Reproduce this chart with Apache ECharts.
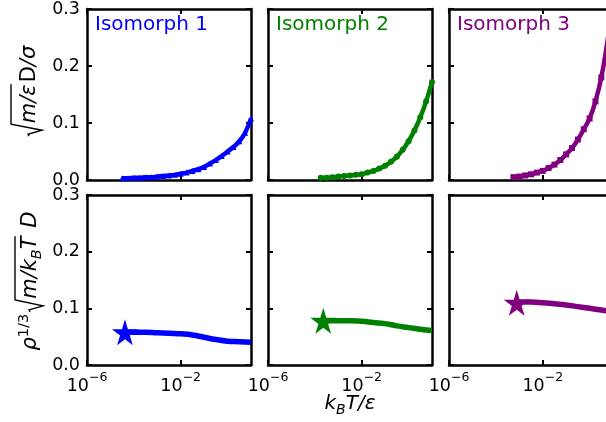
<!DOCTYPE html>
<html>
<head>
<meta charset="utf-8">
<script src="https://cdn.jsdelivr.net/npm/echarts@6/dist/echarts.min.js"></script>
<style>
  html, body { margin: 0; padding: 0; background: #fff; }
  #chart { width: 606px; height: 422px; }
</style>
</head>
<body>
<div id="chart"></div>
<script>
// x values are log10(k_B T / eps)
const names = ['Isomorph 1', 'Isomorph 2', 'Isomorph 3']
const colors = ['#0000ff', '#008000', '#800080']
const topSymbols = ['triangle', 'circle', 'rect']

// top row: sqrt(m/eps) D / sigma
const blueTopExp = [-4.5, -4.25, -4, -3.75, -3.5, -3.25, -3, -2.75, -2.5, -2.25, -2, -1.75, -1.5, -1.25, -1, -0.75, -0.5, -0.25, 0, 0.25, 0.5, 0.75, 1]
const blueTopVal = [0.003, 0.003, 0.004, 0.004, 0.005, 0.005, 0.006, 0.007, 0.008, 0.009, 0.011, 0.013, 0.016, 0.019, 0.023, 0.029, 0.035, 0.042, 0.050, 0.058, 0.068, 0.083, 0.108]
const greenTopExp = [-3.75, -3.5, -3.25, -3, -2.75, -2.5, -2.25, -2, -1.75, -1.5, -1.25, -1, -0.75, -0.5, -0.25, 0, 0.25, 0.5, 0.75, 1]
const greenTopVal = [0.004, 0.004, 0.005, 0.006, 0.007, 0.008, 0.009, 0.010, 0.013, 0.016, 0.020, 0.025, 0.032, 0.041, 0.053, 0.068, 0.087, 0.110, 0.138, 0.172]
const purpleTopExp = [-3.25, -3, -2.75, -2.5, -2.25, -2, -1.75, -1.5, -1.25, -1, -0.75, -0.5, -0.25, 0, 0.25, 0.5, 0.75, 1]
const purpleTopVal = [0.005, 0.006, 0.008, 0.010, 0.013, 0.016, 0.021, 0.027, 0.035, 0.045, 0.056, 0.071, 0.089, 0.108, 0.138, 0.180, 0.240, 0.310]

// bottom row: rho^(1/3) sqrt(m/k_B T) D
const blueBotExp = [-4.4, -4, -3.5, -3, -2.5, -2, -1.5, -1, -0.5, 0, 0.5, 1]
const blueBotVal = [0.058, 0.058, 0.058, 0.057, 0.056, 0.055, 0.053, 0.049, 0.045, 0.042, 0.041, 0.040]
const greenBotExp = [-3.65, -3, -2.5, -2, -1.5, -1, -0.5, 0, 0.5, 1]
const greenBotVal = [0.078, 0.078, 0.078, 0.077, 0.075, 0.073, 0.069, 0.066, 0.063, 0.061]
const purpleBotExp = [-3.12, -2.5, -2, -1.5, -1, -0.5, 0, 0.5, 1]
const purpleBotVal = [0.111, 0.111, 0.110, 0.108, 0.106, 0.103, 0.100, 0.097, 0.094]

// star = starting state point of each isomorph
const starExp = [-4.38, -3.64, -3.11]
const starVal = [0.058, 0.078, 0.110]

const xTicks = [1e-6, 1e-2]

const FONT = '"DejaVu Sans", sans-serif'
const STAR = 'path://M50,0 L61,35 L98,35 L68,57 L79,91 L50,70 L21,91 L32,57 L2,35 L39,35 Z'

const topData = [[blueTopExp, blueTopVal], [greenTopExp, greenTopVal], [purpleTopExp, purpleTopVal]]
const botData = [[blueBotExp, blueBotVal], [greenBotExp, greenBotVal], [purpleBotExp, purpleBotVal]]

function pts(exps, vals) {
  return exps.map((e, i) => [Math.pow(10, e), vals[i]])
}

// the third column is cut by the page edge: it shows only up to ~10^0.70
const colLeft = [87, 268, 449]
const colWidth = [164, 164, 157]
const colMax = [10, 10, Math.pow(10, 0.70)]
const rowTop = [9, 195]
const rowH = [171, 170]

const grid = [], xAxis = [], yAxis = [], series = []

function supLabel(v) {
  const e = Math.round(Math.log10(v))
  return '{b|10}{s|' + (e < 0 ? '\u2212' + (-e) : e) + '}'
}

for (let r = 0; r < 2; r++) {
  for (let c = 0; c < 3; c++) {
    const i = r * 3 + c
    grid.push({ left: colLeft[c], top: rowTop[r], width: colWidth[c], height: rowH[r] })
    const line = { onZero: false, lineStyle: { color: '#000', width: 2.5 } }
    const tick = { inside: true, length: 5, lineStyle: { color: '#000', width: 2 } }
    const xBase = { type: 'log', logBase: 10, min: 1e-6, max: colMax[c], gridIndex: i, splitLine: { show: false }, axisLine: line }
    xAxis.push(Object.assign({}, xBase, {
      position: 'bottom',
      axisTick: Object.assign({ customValues: xTicks }, tick),
      axisLabel: {
        show: r === 1, customValues: xTicks, margin: 6, formatter: supLabel,
        rich: {
          b: { fontFamily: FONT, fontSize: 17.5, color: '#000', lineHeight: 24, verticalAlign: 'bottom' },
          s: { fontFamily: FONT, fontSize: 12.5, color: '#000', lineHeight: 24, verticalAlign: 'top' }
        }
      }
    }))
    xAxis.push(Object.assign({}, xBase, {
      position: 'top',
      axisTick: Object.assign({ customValues: xTicks }, tick),
      axisLabel: { show: false }
    }))
    const yBase = { type: 'value', min: 0, max: 0.3, interval: 0.1, gridIndex: i, splitLine: { show: false }, axisLine: line, axisTick: tick }
    yAxis.push(Object.assign({}, yBase, {
      position: 'left',
      axisLabel: { show: c === 0, margin: 7, fontFamily: FONT, fontSize: 17.5, color: '#000', formatter: v => v.toFixed(1) }
    }))
    yAxis.push(Object.assign({}, yBase, { position: 'right', show: c < 2, axisLabel: { show: false } }))

    if (r === 0) {
      series.push({
        type: 'line', xAxisIndex: 2 * i, yAxisIndex: 2 * i,
        data: pts(topData[c][0], topData[c][1]), smooth: true,
        symbol: topSymbols[c], symbolSize: 6, showAllSymbol: true,
        itemStyle: { color: colors[c] }, lineStyle: { color: colors[c], width: 4.5 },
        emphasis: { disabled: true }, animation: false
      })
    } else {
      series.push({
        type: 'line', xAxisIndex: 2 * i, yAxisIndex: 2 * i,
        data: pts(botData[c][0], botData[c][1]), smooth: true, symbol: 'none',
        lineStyle: { color: colors[c], width: 5.5 }, emphasis: { disabled: true }, animation: false
      })
      series.push({
        type: 'scatter', xAxisIndex: 2 * i, yAxisIndex: 2 * i,
        data: [[Math.pow(10, starExp[c]), starVal[c]]], symbol: STAR, symbolSize: 26,
        itemStyle: { color: colors[c], opacity: 1 }, emphasis: { disabled: true }, animation: false, z: 5
      })
    }
  }
}

// math-like labels with radicals, measured via canvas
const mctx = document.createElement('canvas').getContext('2d')
function tw(t, size, it) {
  mctx.font = (it ? 'italic ' : '') + size + 'px ' + FONT
  return mctx.measureText(t).width
}

function mathLabel(pieces, px, py, rot, barH) {
  const children = []
  let x = 0, radStart = null
  const placed = []
  pieces.forEach(p => {
    if (p.radOpen) { radStart = x; x += 15; return }
    if (p.radClose) { placed.push({ rad: [radStart, x] }); x += 2; return }
    const w = tw(p.t, p.size, p.it)
    placed.push({ p, x })
    x += w
  })
  const W = x, off = -W / 2
  placed.forEach(q => {
    if (q.rad) {
      const x0 = q.rad[0] + off, x1 = q.rad[1] + off
      children.push({
        type: 'polyline',
        shape: { points: [[x0 + 2, -8], [x0 + 4, -9], [x0 + 8, 5], [x0 + 14, -barH], [x1, -barH]] },
        style: { stroke: '#000', lineWidth: 1.4, fill: null }
      })
    } else {
      const p = q.p
      children.push({
        type: 'text', x: q.x + off, y: (p.dy || 0) - p.size * 0.36,
        style: { text: p.t, font: (p.it ? 'italic ' : '') + p.size + 'px ' + FONT, fill: '#000', verticalAlign: 'middle', align: 'left' }
      })
    }
  })
  return { type: 'group', x: px, y: py, rotation: rot, children }
}

const graphic = []
names.forEach((n, c) => {
  graphic.push({
    type: 'text', x: colLeft[c] + 8, y: 25,
    style: { text: n, font: '20px ' + FONT, fill: colors[c], verticalAlign: 'middle' }
  })
})

graphic.push(mathLabel([
  { radOpen: true },
  { t: 'm/\u03b5', size: 21, it: true },
  { radClose: true },
  { t: 'D', size: 21 },
  { t: '/\u03c3', size: 21, it: true }
], 37, 92, Math.PI / 2, 26))

graphic.push(mathLabel([
  { t: '\u03c1', size: 21, it: true },
  { t: '1/3', size: 14.5, dy: -9 },
  { radOpen: true },
  { t: 'm/k', size: 21, it: true },
  { t: 'B', size: 14.5, it: true, dy: 4 },
  { t: 'T', size: 21, it: true },
  { radClose: true },
  { t: ' D', size: 21, it: true }
], 38, 281, Math.PI / 2, 23))

graphic.push(mathLabel([
  { t: 'k', size: 20, it: true },
  { t: 'B', size: 14, it: true, dy: 4 },
  { t: 'T/\u03b5', size: 20, it: true }
], 350, 411, 0, 0))

const chart = echarts.init(document.getElementById('chart'), null, { renderer: 'canvas' })
chart.setOption({
  animation: false,
  backgroundColor: '#fff',
  textStyle: { fontFamily: FONT },
  grid, xAxis, yAxis, series, graphic
})
</script>
</body>
</html>
